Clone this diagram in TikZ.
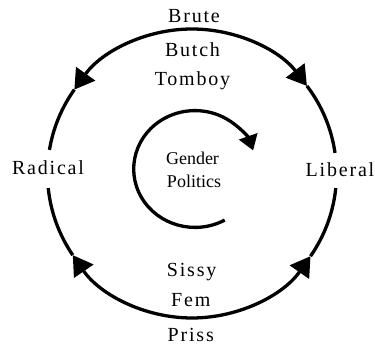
\documentclass[tikz,border=0pt]{standalone}
\usepackage{fontspec}
\setmainfont{Liberation Serif}
\newfontfamily\spaced[LetterSpace=9]{Liberation Serif}
\usetikzlibrary{arrows.meta}
\begin{document}
\begin{tikzpicture}[x=1pt,y=1pt,
  ring/.style={line width=3.3pt},
  bigtip/.style={-{Triangle[length=19.5pt,width=23pt]}},
  smalltip/.style={-{Triangle[length=15pt,width=19pt]}},
  lbl/.style={anchor=base,inner sep=0pt,font=\spaced\fontsize{20}{24}\selectfont},
  ctr/.style={anchor=base,inner sep=0pt,font=\fontsize{18}{22}\selectfont}]
\useasboundingbox (0,0) rectangle (375,345);
\def\R{144.5}
\coordinate (C) at (192,171.5);
\coordinate (c) at (195,176);
% outer ring
\draw[ring,bigtip] ([shift={(90:\R)}]C) arc[start angle=90,end angle=144.5,radius=\R];
\draw[ring] ([shift={(144.5:\R)}]C) arc[start angle=144.5,end angle=170.6,radius=\R];
\draw[ring,bigtip] ([shift={(90:\R)}]C) arc[start angle=90,end angle=37.3,radius=\R];
\draw[ring] ([shift={(37.3:\R)}]C) arc[start angle=37.3,end angle=8.2,radius=\R];
\draw[ring,bigtip] ([shift={(270:\R)}]C) arc[start angle=270,end angle=214.4,radius=\R];
\draw[ring] ([shift={(214.4:\R)}]C) arc[start angle=214.4,end angle=185.8,radius=\R];
\draw[ring,bigtip] ([shift={(270:\R)}]C) arc[start angle=270,end angle=325.1,radius=\R];
\draw[ring] ([shift={(325.1:\R)}]C) arc[start angle=325.1,end angle=354.2,radius=\R];
% inner arrow
\draw[ring,smalltip] ([shift={(-61:61.3 and 58.4)}]c) arc[start angle=-61,end angle=-341.5,x radius=61.3,y radius=58.4];
% labels
\node[lbl] (brute) at (194,322) {Brute};
\node[lbl] (butch) at (192.5,288) {Butch};
\node[lbl] (tomboy) at (192.5,259) {Tomboy};
\node[lbl] (sissy) at (191.7,68) {Sissy};
\node[lbl] (fem) at (190.8,38) {Fem};
\node[lbl] (priss) at (190.8,3) {Priss};
\node[lbl] (radical) at (48,170) {Radical};
\node[lbl] (liberal) at (340,168) {Liberal};
\node[ctr] (gender) at (192.5,180) {Gender};
\node[ctr] (politics) at (194,157) {Politics};
\end{tikzpicture}
\end{document}
